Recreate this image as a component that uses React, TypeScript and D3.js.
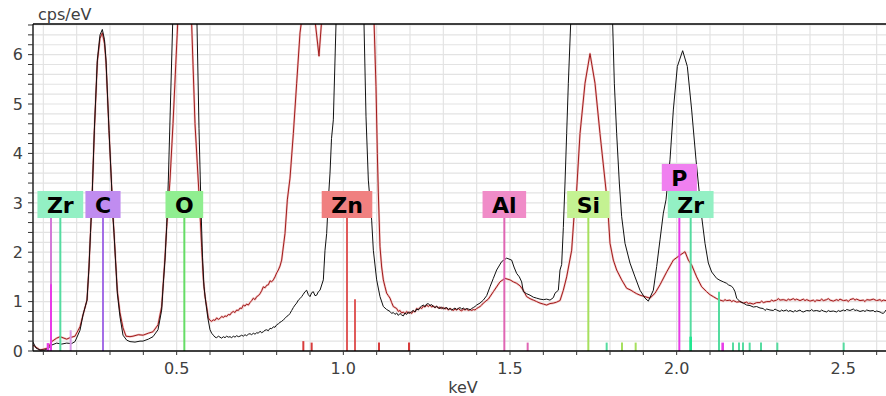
import React from "react";
import * as d3 from "d3";

// ---- data (keV, cps/eV) ----
const spectrumBlack: [number, number][] = [
  [0.069, 0.18], [0.078, 0.06], [0.09, 0.02], [0.105, 0.02], [0.114, 0.05], [0.125, 0.12],
  [0.14, 0.16], [0.155, 0.14], [0.17, 0.16], [0.185, 0.15], [0.195, 0.19], [0.21, 0.42],
  [0.219, 0.73], [0.231, 1.03], [0.237, 1.7], [0.2415, 2.4], [0.246, 3.06], [0.253, 4.47],
  [0.262, 5.89], [0.27, 6.4], [0.277, 6.51], [0.2835, 6.3], [0.288, 5.89], [0.297, 4.47],
  [0.305, 3.32], [0.309, 2.7], [0.312, 2.39], [0.3165, 1.84], [0.322, 1.17], [0.33, 0.69],
  [0.339, 0.32], [0.35, 0.22], [0.36, 0.19], [0.375, 0.18], [0.39, 0.2], [0.399, 0.2],
  [0.415, 0.24], [0.429, 0.29], [0.444, 0.43], [0.455, 0.83], [0.46, 1.37], [0.465, 1.84],
  [0.47, 2.52], [0.475, 3.46], [0.488, 6.62], [0.498, 10], [0.522, 13], [0.545, 10],
  [0.561, 6.6], [0.567, 4.5], [0.573, 2.9], [0.5775, 1.9], [0.582, 1.3], [0.588, 0.95],
  [0.594, 0.65], [0.6, 0.43], [0.605, 0.36], [0.61, 0.32], [0.615, 0.28], [0.62, 0.27],
  [0.625, 0.3], [0.63, 0.28], [0.635, 0.26], [0.64, 0.29], [0.645, 0.27], [0.65, 0.3],
  [0.655, 0.28], [0.66, 0.29], [0.665, 0.27], [0.67, 0.3], [0.675, 0.28], [0.68, 0.31],
  [0.685, 0.29], [0.69, 0.3], [0.695, 0.32], [0.7, 0.3], [0.705, 0.33], [0.71, 0.31],
  [0.715, 0.34], [0.72, 0.35], [0.725, 0.33], [0.73, 0.36], [0.735, 0.34], [0.74, 0.37],
  [0.745, 0.36], [0.75, 0.4], [0.755, 0.37], [0.76, 0.39], [0.765, 0.42], [0.77, 0.43],
  [0.775, 0.41], [0.78, 0.46], [0.785, 0.45], [0.79, 0.49], [0.795, 0.48], [0.8, 0.53],
  [0.805, 0.55], [0.81, 0.58], [0.815, 0.6], [0.82, 0.63], [0.825, 0.66], [0.83, 0.7],
  [0.835, 0.72], [0.84, 0.76], [0.845, 0.82], [0.85, 0.88], [0.855, 0.93], [0.86, 0.97],
  [0.865, 1.03], [0.87, 1.06], [0.875, 1.1], [0.88, 1.15], [0.885, 1.2], [0.89, 1.23],
  [0.895, 1.14], [0.9, 1.1], [0.905, 1.18], [0.91, 1.2], [0.915, 1.12], [0.92, 1.13],
  [0.925, 1.2], [0.93, 1.23], [0.94, 1.44], [0.945, 2.04], [0.95, 2.38], [0.955, 3.06],
  [0.96, 3.6], [0.9645, 4.3], [0.97, 4.68], [0.978, 6.62], [0.99, 10], [1.02, 14],
  [1.05, 10], [1.062, 6.62], [1.068, 4.74], [1.075, 3.46], [1.085, 2.65], [1.09, 2.04],
  [1.1, 1.44], [1.11, 1.1], [1.12, 0.9], [1.13, 0.84], [1.14, 0.8], [1.145, 0.76],
  [1.15, 0.78], [1.155, 0.74], [1.16, 0.77], [1.165, 0.72], [1.17, 0.76], [1.175, 0.73],
  [1.18, 0.71], [1.185, 0.77], [1.19, 0.74], [1.195, 0.79], [1.2, 0.76], [1.205, 0.8],
  [1.21, 0.82], [1.215, 0.79], [1.22, 0.85], [1.225, 0.83], [1.23, 0.88], [1.235, 0.91],
  [1.24, 0.93], [1.245, 0.9], [1.25, 0.95], [1.255, 0.96], [1.26, 0.92], [1.265, 0.94],
  [1.27, 0.9], [1.275, 0.88], [1.28, 0.91], [1.285, 0.87], [1.29, 0.86], [1.295, 0.89],
  [1.3, 0.85], [1.305, 0.87], [1.31, 0.88], [1.315, 0.84], [1.32, 0.86], [1.325, 0.83],
  [1.33, 0.85], [1.335, 0.87], [1.34, 0.84], [1.345, 0.86], [1.35, 0.88], [1.355, 0.85],
  [1.36, 0.87], [1.365, 0.84], [1.37, 0.86], [1.375, 0.85], [1.38, 0.83], [1.385, 0.86],
  [1.39, 0.88], [1.395, 0.9], [1.4, 0.93], [1.41, 0.97], [1.42, 1.03], [1.43, 1.12],
  [1.44, 1.3], [1.45, 1.47], [1.46, 1.64], [1.475, 1.81], [1.49, 1.88], [1.505, 1.84],
  [1.512, 1.7], [1.52, 1.57], [1.528, 1.5], [1.535, 1.4], [1.54, 1.2], [1.55, 1.16],
  [1.56, 1.13], [1.57, 1.09], [1.58, 1.07], [1.59, 1.05], [1.6, 1.04], [1.61, 1.05],
  [1.62, 1.03], [1.63, 1.08], [1.635, 1.17], [1.645, 1.23], [1.65, 1.64], [1.655, 1.75],
  [1.66, 2.5], [1.665, 3.4], [1.67, 4.4], [1.675, 5.42], [1.682, 6.62], [1.7, 10],
  [1.745, 14], [1.79, 10], [1.808, 6.62], [1.813, 5.42], [1.82, 4.4], [1.828, 3.4],
  [1.835, 2.72], [1.845, 2.18], [1.86, 1.78], [1.875, 1.5], [1.89, 1.23], [1.905, 1.07],
  [1.915, 1.01], [1.93, 1.23], [1.94, 1.71], [1.95, 2.25], [1.96, 2.79], [1.968, 3.06],
  [1.98, 3.87], [1.99, 4.88], [2.002, 5.76], [2.018, 6.08], [2.032, 5.76], [2.045, 4.88],
  [2.058, 3.87], [2.07, 3.06], [2.075, 2.72], [2.085, 2.18], [2.095, 1.78], [2.105, 1.6],
  [2.12, 1.47], [2.13, 1.43], [2.14, 1.4], [2.15, 1.37], [2.155, 1.34], [2.165, 1.31],
  [2.17, 1.27], [2.175, 1.2], [2.18, 1.07], [2.19, 1.0], [2.2, 0.97], [2.21, 0.93],
  [2.22, 0.92], [2.23, 0.89], [2.24, 0.9], [2.25, 0.87], [2.26, 0.86], [2.265, 0.82],
  [2.27, 0.85], [2.28, 0.83], [2.29, 0.82], [2.295, 0.85], [2.3, 0.83], [2.31, 0.8],
  [2.315, 0.83], [2.32, 0.81], [2.33, 0.83], [2.335, 0.8], [2.34, 0.82], [2.35, 0.79],
  [2.355, 0.82], [2.36, 0.8], [2.37, 0.83], [2.375, 0.8], [2.38, 0.79], [2.39, 0.82],
  [2.4, 0.81], [2.405, 0.84], [2.41, 0.81], [2.42, 0.82], [2.43, 0.8], [2.435, 0.83],
  [2.44, 0.81], [2.45, 0.79], [2.455, 0.82], [2.46, 0.8], [2.47, 0.81], [2.48, 0.79],
  [2.485, 0.82], [2.49, 0.8], [2.5, 0.83], [2.505, 0.81], [2.51, 0.84], [2.52, 0.82],
  [2.53, 0.85], [2.535, 0.82], [2.54, 0.83], [2.55, 0.8], [2.56, 0.82], [2.565, 0.8],
  [2.57, 0.83], [2.58, 0.81], [2.59, 0.82], [2.595, 0.79], [2.6, 0.81], [2.61, 0.79],
  [2.615, 0.77], [2.62, 0.76], [2.625, 0.8], [2.628, 0.83],
];

const spectrumRed: [number, number][] = [
  [0.069, 0.12], [0.09, 0.02], [0.114, 0.06], [0.125, 0.19], [0.14, 0.26], [0.15, 0.29],
  [0.17, 0.24], [0.18, 0.27], [0.195, 0.3], [0.21, 0.49], [0.219, 0.73], [0.231, 1.03],
  [0.237, 1.7], [0.2415, 2.4], [0.246, 3.06], [0.253, 4.45], [0.262, 5.85], [0.27, 6.33],
  [0.277, 6.44], [0.2835, 6.22], [0.288, 5.85], [0.297, 4.47], [0.305, 3.32], [0.309, 2.72],
  [0.312, 2.4], [0.3165, 1.86], [0.322, 1.22], [0.33, 0.77], [0.339, 0.47], [0.348, 0.3],
  [0.36, 0.29], [0.369, 0.3], [0.385, 0.33], [0.399, 0.32], [0.415, 0.36], [0.429, 0.39],
  [0.444, 0.53], [0.455, 0.9], [0.46, 1.4], [0.465, 1.9], [0.47, 2.5], [0.48, 3.46],
  [0.489, 4.6], [0.503, 6.62], [0.524, 9], [0.545, 6.62], [0.555, 4.6], [0.568, 3.06],
  [0.575, 2.1], [0.58, 1.45], [0.585, 1.1], [0.59, 0.9], [0.595, 0.67], [0.6, 0.62],
  [0.605, 0.6], [0.61, 0.63], [0.615, 0.62], [0.62, 0.67], [0.625, 0.64], [0.63, 0.66],
  [0.635, 0.7], [0.64, 0.68], [0.645, 0.71], [0.65, 0.7], [0.655, 0.74], [0.66, 0.73],
  [0.665, 0.78], [0.67, 0.8], [0.675, 0.78], [0.68, 0.83], [0.685, 0.82], [0.69, 0.87],
  [0.695, 0.86], [0.7, 0.93], [0.705, 0.91], [0.71, 0.95], [0.715, 0.93], [0.72, 0.98],
  [0.725, 1.02], [0.73, 1.07], [0.735, 1.04], [0.74, 1.1], [0.745, 1.12], [0.75, 1.16],
  [0.755, 1.22], [0.76, 1.3], [0.765, 1.28], [0.77, 1.33], [0.775, 1.34], [0.78, 1.42],
  [0.785, 1.4], [0.79, 1.44], [0.795, 1.5], [0.8, 1.58], [0.805, 1.64], [0.81, 1.72],
  [0.815, 1.84], [0.825, 2.38], [0.832, 3.06], [0.84, 3.5], [0.85, 4.4], [0.86, 5.42],
  [0.87, 6.44], [0.875, 6.7], [0.894, 8.5], [0.915, 6.7], [0.927, 5.97], [0.935, 6.7],
  [0.975, 10], [1.02, 12], [1.065, 10], [1.092, 6.7], [1.098, 5.35], [1.102, 4.0],
  [1.105, 3.2], [1.11, 2.11], [1.115, 1.7], [1.12, 1.44], [1.125, 1.3], [1.13, 1.17],
  [1.135, 1.12], [1.14, 1.07], [1.145, 0.98], [1.15, 0.9], [1.155, 0.88], [1.16, 0.86],
  [1.165, 0.8], [1.17, 0.82], [1.175, 0.77], [1.18, 0.79], [1.185, 0.75], [1.19, 0.8],
  [1.195, 0.77], [1.2, 0.79], [1.205, 0.76], [1.21, 0.81], [1.215, 0.79], [1.22, 0.86],
  [1.225, 0.84], [1.23, 0.88], [1.235, 0.86], [1.24, 0.91], [1.245, 0.89], [1.25, 0.93],
  [1.255, 0.9], [1.26, 0.93], [1.265, 0.89], [1.27, 0.91], [1.275, 0.88], [1.28, 0.9],
  [1.285, 0.87], [1.29, 0.89], [1.295, 0.86], [1.3, 0.88], [1.305, 0.85], [1.31, 0.87],
  [1.315, 0.83], [1.32, 0.86], [1.325, 0.84], [1.33, 0.82], [1.335, 0.85], [1.34, 0.83],
  [1.345, 0.86], [1.35, 0.83], [1.355, 0.81], [1.36, 0.85], [1.365, 0.83], [1.37, 0.85],
  [1.375, 0.82], [1.38, 0.84], [1.385, 0.82], [1.39, 0.84], [1.395, 0.83], [1.4, 0.86],
  [1.405, 0.88], [1.41, 0.9], [1.415, 0.93], [1.42, 0.97], [1.435, 1.05], [1.45, 1.2],
  [1.47, 1.4], [1.485, 1.47], [1.5, 1.44], [1.51, 1.4], [1.52, 1.37], [1.53, 1.32],
  [1.54, 1.23], [1.55, 1.1], [1.56, 1.06], [1.57, 1.03], [1.58, 1.0], [1.59, 0.97],
  [1.6, 0.95], [1.61, 0.93], [1.62, 0.96], [1.63, 0.97], [1.64, 0.99], [1.65, 1.02],
  [1.66, 1.23], [1.67, 1.5], [1.685, 2.04], [1.692, 2.72], [1.7, 3.26], [1.71, 4.4],
  [1.725, 5.42], [1.74, 6.02], [1.755, 5.42], [1.77, 4.4], [1.788, 3.26], [1.795, 2.72],
  [1.8, 2.18], [1.81, 1.84], [1.82, 1.64], [1.835, 1.44], [1.85, 1.27], [1.86, 1.24],
  [1.87, 1.2], [1.88, 1.16], [1.89, 1.13], [1.905, 1.1], [1.92, 1.07], [1.935, 1.17],
  [1.95, 1.34], [1.97, 1.6], [1.99, 1.84], [2.01, 1.94], [2.025, 2.01], [2.035, 1.84],
  [2.045, 1.74], [2.06, 1.5], [2.075, 1.3], [2.09, 1.2], [2.1, 1.14], [2.11, 1.1],
  [2.12, 1.06], [2.13, 1.03], [2.14, 1.01], [2.145, 1.04], [2.15, 1.02], [2.16, 1.03],
  [2.165, 1.0], [2.17, 1.02], [2.18, 0.99], [2.19, 1.0], [2.2, 0.97], [2.21, 0.99],
  [2.215, 0.96], [2.22, 0.97], [2.23, 0.95], [2.24, 0.98], [2.25, 0.98], [2.255, 1.01],
  [2.26, 0.98], [2.27, 1.0], [2.28, 1.0], [2.285, 1.03], [2.29, 1.01], [2.3, 1.03],
  [2.305, 1.06], [2.31, 1.03], [2.32, 1.04], [2.33, 1.02], [2.335, 1.05], [2.34, 1.03],
  [2.35, 1.06], [2.355, 1.03], [2.36, 1.05], [2.37, 1.02], [2.38, 1.05], [2.385, 1.02],
  [2.39, 1.04], [2.4, 1.01], [2.41, 1.03], [2.415, 1.0], [2.42, 1.03], [2.43, 1.02],
  [2.435, 1.05], [2.44, 1.02], [2.45, 1.04], [2.455, 1.06], [2.46, 1.03], [2.47, 1.01],
  [2.48, 1.04], [2.485, 1.02], [2.49, 1.05], [2.5, 1.02], [2.51, 1.03], [2.515, 1.0],
  [2.52, 1.04], [2.53, 1.06], [2.535, 1.03], [2.54, 1.05], [2.55, 1.02], [2.56, 1.03],
  [2.565, 1.0], [2.57, 1.04], [2.58, 1.03], [2.59, 1.05], [2.6, 1.02], [2.61, 1.04],
  [2.615, 1.01], [2.62, 1.03], [2.628, 1.02],
];

// element labels: symbol, line energy (keV), label row (0 = lower row, 1 = upper row)
const labelSymbols = ["Zr", "C", "O", "Zn", "Al", "Si", "P", "Zr"];
const labelEnergies = [0.151, 0.279, 0.523, 1.011, 1.483, 1.735, 2.008, 2.042];
const labelRows = [0, 0, 0, 0, 0, 0, 1, 0];

// minor marker lines: energy (keV), relative height (cps/eV), group
const markerEnergies = [0.114, 0.123, 0.182, 0.88, 0.905, 1.035, 1.107, 1.197, 1.553, 1.79, 1.836, 1.877, 2.042, 2.127, 2.138, 2.169, 2.187, 2.199, 2.219, 2.253, 2.302, 2.501];
const markerHeights = [0.16, 1.35, 0.42, 0.2, 0.17, 1.05, 0.17, 0.17, 0.17, 0.17, 0.17, 0.17, 0.29, 1.2, 0.17, 0.17, 0.17, 0.17, 0.17, 0.17, 0.17, 0.17];
const markerGroups = ["P", "P", "ZrM", "ZnL", "ZnL", "Zn", "ZnL", "ZnL", "Al", "Zr", "Si", "Si", "ZrB", "Zr", "P", "Zr", "Zr", "Zr", "Zr", "Zr", "Zr", "Zr"];
// connector line beneath the left Zr label
const connectorEnergies = [0.123];

const xTicks = [0.5, 1.0, 1.5, 2.0, 2.5];
const yTicks = [0, 1, 2, 3, 4, 5, 6];

// ---- styles ----
const boxColor: Record<string, string> = {
  Zr: "#93f0c4", C: "#c08cf0", O: "#90ee90", Zn: "#f08080", Al: "#f08cc8", Si: "#c4f292", P: "#f080f0",
};
const lineColor: Record<string, string> = {
  Zr: "#55dca0", C: "#a46ee6", O: "#66dd66", Zn: "#e05a5a", Al: "#e066b4", Si: "#a6e05e", P: "#e83ce8",
  ZrM: "#d898e8", ZnL: "#d83c3c", ZrB: "#20e890",
};

const W = 886, H = 396;
const M = { left: 33, right: 886, top: 24, bottom: 351 };
const FONT = "'DejaVu Sans', Verdana, sans-serif";

function measure(text: string, font: string): number {
  if (typeof document === "undefined") return text.length * 14;
  const c = document.createElement("canvas");
  const ctx = c.getContext("2d");
  if (!ctx) return text.length * 14;
  ctx.font = font;
  return ctx.measureText(text).width;
}

export default function App() {
  const x = d3.scaleLinear().domain([0.069, 2.628]).range([M.left, M.right]);
  const y = d3.scaleLinear().domain([0, 6.62]).range([M.bottom, M.top]);
  const line = d3.line<[number, number]>().x((d) => x(d[0])).y((d) => y(d[1]));

  const minorX = d3.range(1, 27).map((i) => i / 10).filter((v) => v >= 0.069 && v <= 2.628);
  const minorY = d3.range(1, 34).map((i) => +(i * 0.2).toFixed(1)).filter((v) => v <= 6.62);

  const rowTop = [191, 164];
  const boxH = 27;
  const labelFont = `bold 22px ${FONT}`;

  return (
    <svg width={W} height={H} style={{ position: "absolute", left: 0, top: 0, background: "#fff" }} fontFamily={FONT}>
      <defs>
        <clipPath id="plot">
          <rect x={M.left} y={M.top} width={M.right - M.left} height={M.bottom - M.top} />
        </clipPath>
      </defs>
      <rect x={0} y={0} width={W} height={H} fill="#fff" />
      {/* grid */}
      <g stroke="#e3e3e3" strokeWidth={1.2}>
        {minorX.map((v) => (
          <line key={"gx" + v} x1={x(v)} x2={x(v)} y1={M.top} y2={M.bottom} />
        ))}
        {minorY.map((v) => (
          <line key={"gy" + v} x1={M.left} x2={M.right} y1={y(v)} y2={y(v)} />
        ))}
      </g>
      {/* spectra */}
      <g clipPath="url(#plot)" fill="none" strokeLinejoin="round">
        <path d={line(spectrumRed) || ""} stroke="#f2c4c4" strokeWidth={2.2} />
        <path d={line(spectrumRed) || ""} stroke="#a01c1c" strokeWidth={1} />
        <path d={line(spectrumBlack) || ""} stroke="#111" strokeWidth={1} />
      </g>
      {/* marker lines */}
      <g strokeWidth={2}>
        {connectorEnergies.map((e, i) => (
          <line key={"c" + i} x1={x(e)} x2={x(e)} y1={rowTop[0] + boxH} y2={M.bottom} stroke="#d47ad8" />
        ))}
        {labelEnergies.map((e, i) => (
          <line key={"l" + i} x1={x(e)} x2={x(e)} y1={rowTop[labelRows[i]] + boxH} y2={M.bottom}
            stroke={lineColor[labelSymbols[i]]} />
        ))}
        {markerEnergies.map((e, i) => (
          <line key={"m" + i} x1={x(e)} x2={x(e)} y1={y(markerHeights[i])} y2={M.bottom}
            stroke={lineColor[markerGroups[i]]} strokeWidth={markerGroups[i] === "ZrB" || (markerGroups[i] === "P" && markerHeights[i] < 0.2) ? 2.6 : 2} />
        ))}
      </g>
      {/* labels */}
      <g>
        {labelEnergies.map((e, i) => {
          const sym = labelSymbols[i];
          const tw = measure(sym, labelFont);
          const bw = tw + 19;
          const cx = x(e);
          const top = rowTop[labelRows[i]];
          return (
            <g key={"b" + i}>
              <rect x={cx - bw / 2} y={top} width={bw} height={boxH} fill={boxColor[sym]} />
              <text x={cx} y={top + 21.5} textAnchor="middle" fontWeight="bold" fontSize={22} fill="#000">
                {sym}
              </text>
            </g>
          );
        })}
      </g>
      {/* axes frame */}
      <g stroke="#000" strokeWidth={1.3} fill="none">
        <line x1={M.left} x2={M.right} y1={M.top} y2={M.top} />
        <line x1={M.left} x2={M.left} y1={M.top} y2={M.bottom} />
        <line x1={M.left} x2={M.right} y1={M.bottom} y2={M.bottom} />
      </g>
      {/* ticks */}
      <g stroke="#333" strokeWidth={1}>
        {minorX.map((v) => (
          <line key={"tx" + v} x1={x(v)} x2={x(v)} y1={M.bottom} y2={M.bottom + 4} />
        ))}
        {[0, ...minorY].map((v) => (
          <line key={"ty" + v} x1={M.left - 5} x2={M.left} y1={y(v)} y2={y(v)} />
        ))}
      </g>
      <g fontSize={16} fill="#404040">
        {xTicks.map((v) => (
          <text key={"xl" + v} x={x(v)} y={374} textAnchor="middle">{v.toFixed(1)}</text>
        ))}
        {yTicks.map((v) => (
          <text key={"yl" + v} x={23} y={y(v) + 5.8} textAnchor="end">{v}</text>
        ))}
        <text x={463} y={393} textAnchor="middle">keV</text>
        <text x={38} y={20}>cps/eV</text>
      </g>
    </svg>
  );
}
